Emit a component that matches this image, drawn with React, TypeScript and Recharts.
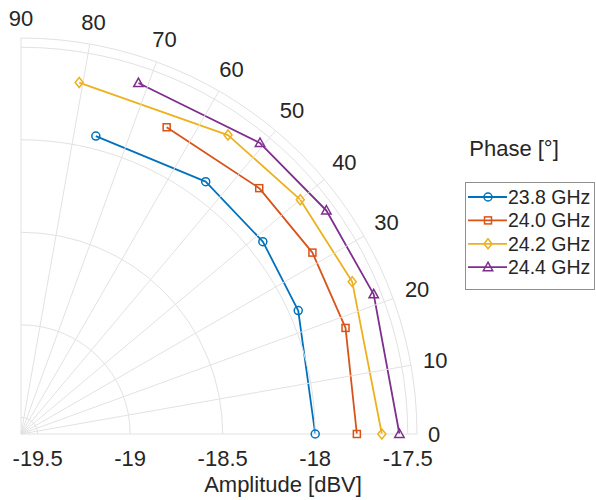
import { RadarChart, Radar, PolarAngleAxis, PolarRadiusAxis, Legend } from 'recharts';

// Phase (deg) / amplitude (dBV) per frequency
const PHASE_238 = [0, 24.0, 38.5, 53.8, 75.9];
const AMP_238 = [-18.0, -17.95, -17.92, -17.9, -17.93];
const PHASE_240 = [0, 18.1, 31.9, 45.9, 64.6];
const AMP_240 = [-17.775, -17.745, -17.735, -17.74, -17.755];
const PHASE_242 = [0, 24.7, 40.0, 55.3, 80.6];
const AMP_242 = [-17.64, -17.62, -17.62, -17.625, -17.665];
const PHASE_244 = [0, 21.6, 36.2, 50.6, 71.5];
const AMP_244 = [-17.545, -17.54, -17.545, -17.555, -17.59];

const SERIES_NAMES = ['23.8 GHz', '24.0 GHz', '24.2 GHz', '24.4 GHz'];
const SERIES_KEYS = ['f238', 'f240', 'f242', 'f244'];
const PHASES = [PHASE_238, PHASE_240, PHASE_242, PHASE_244];
const AMPS = [AMP_238, AMP_240, AMP_242, AMP_244];

const PHASE_TICKS = [0, 10, 20, 30, 40, 50, 60, 70, 80, 90];
const AMP_TICKS = [-19.5, -19, -18.5, -18, -17.5];
const AMP_MIN = -19.59;
const AMP_MAX = -17.45;

const COLORS = ['#0072BD', '#D95319', '#EDB120', '#7E2F8E'];
const MARKERS = ['circle', 'square', 'diamond', 'triangle'];

const CX = 21;
const CY = 434;
const OUTER_R = 396;
const GRID = '#e2e2e2';
const TEXT = '#262626';
const FONT = '"Liberation Sans", Arial, Helvetica, sans-serif';

// one row per measured point; only that series' key is set
const rows: Record<string, number>[] = [];
SERIES_KEYS.forEach((key, s) => {
  PHASES[s].forEach((phase, i) => {
    rows.push({ phase, [key]: AMPS[s][i] });
  });
});

// true when a radar point comes from a row that carries this series
function rowHas(point: any, key: string) {
  if (!point) return false;
  const row = point.payload && typeof point.payload === 'object' && 'phase' in point.payload ? point.payload : point;
  return typeof row[key] === 'number';
}

function Marker({ kind, x, y, color }: { kind: string; x: number; y: number; color: string }) {
  const common = { fill: 'none', stroke: color, strokeWidth: 1.5 };
  if (kind === 'circle') return <circle cx={x} cy={y} r={4} {...common} />;
  if (kind === 'square') return <rect x={x - 3.5} y={y - 3.5} width={7} height={7} {...common} />;
  if (kind === 'diamond')
    return <polygon points={`${x},${y - 5} ${x + 4},${y} ${x},${y + 5} ${x - 4},${y}`} {...common} />;
  return <polygon points={`${x},${y - 5} ${x + 4.7},${y + 3.5} ${x - 4.7},${y + 3.5}`} {...common} />;
}

// open polyline through the series' own points (no closing edge)
function makeShape(key: string, color: string) {
  return (props: any) => {
    const pts = (props.points || []).filter((p: any) => rowHas(p, key) && Number.isFinite(p.x));
    return (
      <polyline
        points={pts.map((p: any) => `${p.x},${p.y}`).join(' ')}
        fill="none"
        stroke={color}
        strokeWidth={1.8}
        strokeLinejoin="round"
      />
    );
  };
}

function makeDot(key: string, kind: string, color: string) {
  return (props: any) => {
    const { cx, cy, payload } = props;
    if (!rowHas(payload, key) || !Number.isFinite(cx)) return <g key={props.key} />;
    return (
      <g key={props.key}>
        <Marker kind={kind} x={cx} y={cy} color={color} />
      </g>
    );
  };
}

// radial grid line + phase label
function PhaseTick(props: any) {
  const { payload } = props;
  const cx = Number.isFinite(props.cx) ? props.cx : CX;
  const cy = Number.isFinite(props.cy) ? props.cy : CY;
  const rad = (payload.coordinate * Math.PI) / 180;
  const label = String(payload.value);
  const w = label.length * 12.2;
  const h = 18;
  const lr = 407 + (w / 2) * Math.abs(Math.cos(rad)) + (h / 2) * Math.abs(Math.sin(rad));
  return (
    <g>
      <line
        x1={cx}
        y1={cy}
        x2={cx + OUTER_R * Math.cos(rad)}
        y2={cy - OUTER_R * Math.sin(rad)}
        stroke={GRID}
        strokeWidth={1}
      />
      <text
        x={cx + lr * Math.cos(rad)}
        y={cy - lr * Math.sin(rad)}
        textAnchor="middle"
        dominantBaseline="central"
        fontSize={22}
        fontFamily={FONT}
        fill={TEXT}
      >
        {label}
      </text>
    </g>
  );
}

// quarter arc + amplitude label
function AmpTick(props: any) {
  const { payload } = props;
  const cx = Number.isFinite(props.cx) ? props.cx : CX;
  const cy = Number.isFinite(props.cy) ? props.cy : CY;
  const r = payload.coordinate;
  const showLabel = AMP_TICKS.includes(payload.value);
  return (
    <g>
      <path
        d={`M ${cx + r} ${cy} A ${r} ${r} 0 0 0 ${cx} ${cy - r}`}
        fill="none"
        stroke={GRID}
        strokeWidth={1}
      />
      {showLabel && (
        <text
          x={cx + r}
          y={cy + 24}
          textAnchor="middle"
          dominantBaseline="central"
          fontSize={22}
          fontFamily={FONT}
          fill={TEXT}
        >
          {payload.value}
        </text>
      )}
    </g>
  );
}

function AmpLabel() {
  return (
    <text x={283} y={484} textAnchor="middle" dominantBaseline="central" fontSize={22} fontFamily={FONT} fill={TEXT}>
      Amplitude [dBV]
    </text>
  );
}

interface LegendItem {
  value: string;
  color: string;
}

function PhaseLegend({ payload }: { payload?: LegendItem[] }) {
  const items = payload?.length
    ? payload.map((p) => ({ name: p.value, color: p.color }))
    : SERIES_NAMES.map((name, i) => ({ name, color: COLORS[i] }));
  return (
    <svg width={136} height={165} style={{ display: 'block' }}>
      <text x={54} y={18} textAnchor="middle" dominantBaseline="central" fontSize={22} fontFamily={FONT} fill={TEXT}>
        Phase [°]
      </text>
      <rect x={5.5} y={52.5} width={129} height={107} fill="#fff" stroke="#8f8f8f" strokeWidth={1} />
      {items.map((item, i) => {
        const y = 67 + i * 23.4;
        const idx = SERIES_NAMES.indexOf(item.name);
        return (
          <g key={item.name}>
            <line x1={8} y1={y} x2={47} y2={y} stroke={item.color} strokeWidth={1.8} />
            <Marker kind={MARKERS[idx >= 0 ? idx : i]} x={28} y={y} color={item.color} />
            <text x={48} y={y} dominantBaseline="central" fontSize={19.5} fontFamily={FONT} fill={TEXT}>
              {item.name}
            </text>
          </g>
        );
      })}
    </svg>
  );
}

export default function App() {
  return (
    <div
      style={{ position: 'absolute', left: 0, top: 0, width: 596, height: 500, background: '#fff', overflow: 'hidden' }}
    >
      <RadarChart
        width={596}
        height={500}
        data={rows}
        cx={CX}
        cy={CY}
        innerRadius={0}
        outerRadius={OUTER_R}
        startAngle={0}
        endAngle={90}
        margin={{ top: 0, right: 0, bottom: 0, left: 0 }}
      >
        <PolarAngleAxis
          dataKey="phase"
          type="number"
          domain={[0, 90]}
          ticks={PHASE_TICKS}
          tick={<PhaseTick />}
          tickLine={false}
          axisLine={false}
        />
        <PolarRadiusAxis
          angle={0}
          type="number"
          domain={[AMP_MIN, AMP_MAX]}
          allowDataOverflow
          tickCount={0}
          ticks={[...AMP_TICKS, AMP_MAX]}
          tick={<AmpTick />}
          axisLine={false}
          label={{ content: <AmpLabel /> }}
        />
        {SERIES_KEYS.map((key, i) => (
          <Radar
            key={key}
            name={SERIES_NAMES[i]}
            dataKey={key}
            stroke={COLORS[i]}
            fill="none"
            isAnimationActive={false}
            shape={makeShape(key, COLORS[i])}
            dot={makeDot(key, MARKERS[i], COLORS[i])}
            legendType="line"
          />
        ))}
        <Legend
          layout="vertical"
          align="left"
          verticalAlign="top"
          content={<PhaseLegend />}
          wrapperStyle={{ left: 460, top: 130, width: 136, right: 'auto', bottom: 'auto' }}
        />
      </RadarChart>
    </div>
  );
}
